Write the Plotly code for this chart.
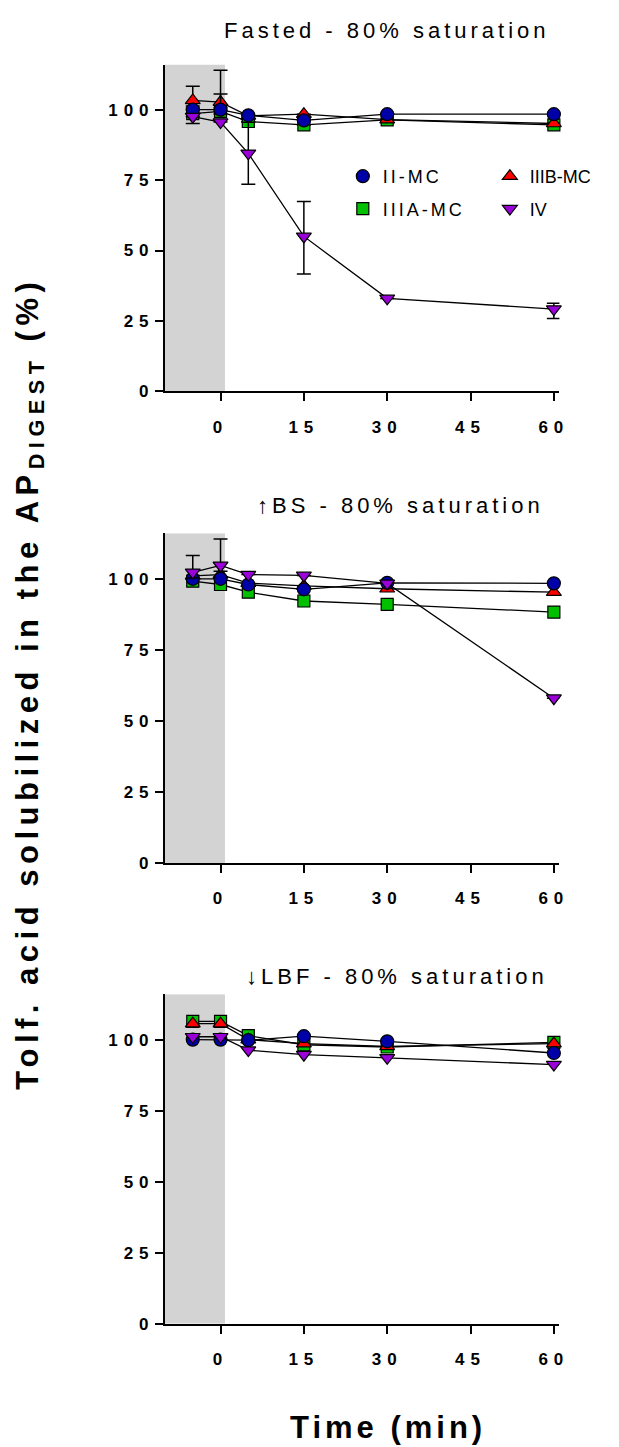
import plotly.graph_objects as go

# ---------------- data ----------------
time_min = [-5, 0, 5, 15, 30, 60]

x_tick_vals = [0, 15, 30, 45, 60]
x_tick_text = ["0", "15", "30", "45", "60"]
y_tick_vals = [0, 25, 50, 75, 100]
y_tick_text = ["0", "25", "50", "75", "100"]

panel_titles = ["Fasted - 80% saturation", "\u2191BS - 80% saturation", "\u2193LBF - 80% saturation"]
series_names = ["II-MC", "IIIA-MC", "IIIB-MC", "IV"]

# Fasted
fasted_ii = [100.0, 100.0, 98.0, 96.2, 98.4, 98.4]
fasted_iiia = [98.6, 99.4, 95.8, 94.6, 96.4, 94.6]
fasted_iiib = [103.3, 102.7, 97.8, 98.4, 96.5, 95.1]
fasted_iv = [97.5, 95.6, 84.5, 55.0, 33.0, 29.2]

fasted_ii_err_up = [None, 5.6, None, None, None, None]
fasted_ii_err_dn = [None, 1.5, None, None, None, None]
fasted_iiia_err_up = [2.0, None, None, None, None, None]
fasted_iiia_err_dn = [3.5, None, None, None, None, None]
fasted_iiib_err_up = [5.0, 11.3, None, None, None, None]
fasted_iiib_err_dn = [2.0, 2.0, None, None, None, None]
fasted_iv_err_up = [None, None, 11.0, 12.4, None, 2.1]
fasted_iv_err_dn = [None, None, 11.0, 13.3, None, 3.3]

# Increased bile salt (BS)
bs_ii = [100.0, 100.0, 98.0, 96.3, 98.6, 98.4]
bs_iiia = [99.2, 98.0, 95.3, 92.2, 91.0, 88.3]
bs_iiib = [101.0, 101.5, 98.5, 97.5, 96.5, 95.3]
bs_iv = [102.3, 104.7, 101.5, 101.2, 98.4, 58.0]

bs_iv_err_up = [5.9, 9.3, None, None, None, None]
bs_iv_err_dn = [2.0, 2.0, None, None, None, None]

# Decreased LBF
lbf_ii = [100.0, 100.0, 99.8, 101.2, 99.4, 95.3]
lbf_iiia = [106.4, 106.4, 101.4, 98.2, 97.4, 99.0]
lbf_iiib = [105.6, 105.6, 100.0, 98.6, 97.6, 98.6]
lbf_iv = [101.0, 101.0, 96.3, 94.7, 93.6, 91.2]

# shaded pre-digestion phase (minutes) and y extent
shade_start, shade_end = -10, 0.8
y_max = 116
x_range = [-10, 61]

# ---------------- styles ----------------
styles = {
    "II-MC": dict(color="#0000a8", symbol="circle", size=13),
    "IIIA-MC": dict(color="#00c000", symbol="square", size=12),
    "IIIB-MC": dict(color="#ff0000", symbol="triangle-up", size=13),
    "IV": dict(color="#9a00d8", symbol="triangle-down", size=13),
}
legend_of = {"II-MC": "legend", "IIIA-MC": "legend", "IIIB-MC": "legend2", "IV": "legend2"}
rank_of = {"II-MC": 1, "IIIA-MC": 2, "IIIB-MC": 1, "IV": 2}

panels = [
    {"II-MC": (fasted_ii, fasted_ii_err_up, fasted_ii_err_dn),
     "IIIA-MC": (fasted_iiia, fasted_iiia_err_up, fasted_iiia_err_dn),
     "IIIB-MC": (fasted_iiib, fasted_iiib_err_up, fasted_iiib_err_dn),
     "IV": (fasted_iv, fasted_iv_err_up, fasted_iv_err_dn)},
    {"II-MC": (bs_ii, None, None),
     "IIIA-MC": (bs_iiia, None, None),
     "IIIB-MC": (bs_iiib, None, None),
     "IV": (bs_iv, bs_iv_err_up, bs_iv_err_dn)},
    {"II-MC": (lbf_ii, None, None),
     "IIIA-MC": (lbf_iiia, None, None),
     "IIIB-MC": (lbf_iiib, None, None),
     "IV": (lbf_iv, None, None)},
]
draw_order = ["IIIA-MC", "IIIB-MC", "II-MC", "IV"]

W, H = 619, 1447
x_px = (158, 555)
panel_px = [(57, 386), (529, 861), (993, 1325)]  # top, bottom

FONT = "Liberation Sans, Arial, sans-serif"
fig = go.Figure()

for p, pdata in enumerate(panels):
    xa = "x" if p == 0 else f"x{p+1}"
    ya = "y" if p == 0 else f"y{p+1}"
    for name in draw_order:
        vals, eu, ed = pdata[name]
        st = styles[name]
        # connecting line
        fig.add_trace(go.Scatter(
            x=time_min, y=vals, name=name, mode="lines",
            xaxis=xa, yaxis=ya, cliponaxis=False,
            line=dict(color="black", width=1.3),
            showlegend=False, hoverinfo="skip",
        ))
        err = dict(visible=False)
        if eu is not None:
            err = dict(type="data", symmetric=False, array=eu, arrayminus=ed,
                       color="black", thickness=1.5, width=7, visible=True)
        fig.add_trace(go.Scatter(
            x=time_min, y=vals, name=name, mode="markers",
            xaxis=xa, yaxis=ya, cliponaxis=False,
            marker=dict(symbol=st["symbol"], size=st["size"], color=st["color"],
                        line=dict(color="black", width=1.2)),
            error_y=err,
            showlegend=(p == 0), legend=legend_of[name], legendgroup=name,
            legendrank=rank_of[name],
        ))

    xkey = "xaxis" if p == 0 else f"xaxis{p+1}"
    ykey = "yaxis" if p == 0 else f"yaxis{p+1}"
    top, bot = panel_px[p]
    fig.layout[xkey] = dict(
        domain=[x_px[0] / W, x_px[1] / W], anchor=ya, range=x_range,
        tickmode="array", tickvals=x_tick_vals, ticktext=x_tick_text,
        ticks="outside", ticklen=8, tickwidth=2, tickcolor="black",
        showline=True, linewidth=2, linecolor="black",
        showgrid=False, zeroline=False, ticklabelstandoff=11,
        tickfont=dict(family=FONT, size=17, color="black", weight="bold"),
    )
    fig.layout[ykey] = dict(
        domain=[1 - bot / H, 1 - top / H], anchor=xa, range=[0, y_max],
        tickmode="array", tickvals=y_tick_vals, ticktext=y_tick_text,
        ticks="outside", ticklen=8, tickwidth=2, tickcolor="black",
        showline=True, linewidth=2, linecolor="black",
        showgrid=False, zeroline=False, ticklabelstandoff=-3,
        tickfont=dict(family=FONT, size=17, color="black", weight="bold"),
    )
    fig.add_shape(type="rect", xref=xa, yref=ya, x0=shade_start, x1=shade_end, y0=0, y1=y_max,
                  fillcolor="#d3d3d3", line=dict(width=0), layer="below")

title_pos = [(381, 23), (395, 501), (392, 975)]
for t, (tx, ty) in zip(panel_titles, title_pos):
    fig.add_annotation(text=t, xref="paper", yref="paper", x=tx / W, y=1 - ty / H,
                       xanchor="center", yanchor="middle", showarrow=False,
                       font=dict(family=FONT, size=22, color="black"))

fig.add_annotation(text="Time (min)", xref="paper", yref="paper", x=382 / W, y=1 - 1429 / H,
                   xanchor="center", yanchor="middle", showarrow=False,
                   font=dict(family=FONT, size=31, color="black", weight="bold"))
fig.add_annotation(text="Tolf. acid solubilized in the AP<sub>DIGEST</sub> (%)", xref="paper", yref="paper",
                   x=22 / W, y=1 - 680 / H, xanchor="center", yanchor="middle", textangle=-90,
                   showarrow=False,
                   font=dict(family=FONT, size=31, color="black", weight="bold"))

legend_style = dict(font=dict(family=FONT, size=18, color="black"),
                    bgcolor="rgba(0,0,0,0)", borderwidth=0, orientation="v",
                    xanchor="left", yanchor="top", tracegroupgap=6, itemclick=False)
fig.update_layout(
    width=W, height=H, margin=dict(l=0, r=0, t=0, b=0),
    paper_bgcolor="white", plot_bgcolor="rgba(0,0,0,0)",
    showlegend=True,
    legend=dict(x=337 / W, y=1 - 151 / H, **legend_style),
    legend2=dict(x=485 / W, y=1 - 151 / H, **legend_style),
)

post = """
var s = document.createElement('style');
s.textContent = 'g.xtick text, g.x2tick text, g.x3tick text, g.ytick text, g.y2tick text, g.y3tick text {letter-spacing:6px;} ' +
  '.legendtext {letter-spacing:3px;} ' +
  'g.scrollbox {clip-path:none !important;} ' +
  '.annotation-text {letter-spacing:4px;} ' +
  '.annotation[data-index="4"] .annotation-text {letter-spacing:5.5px;}';
document.head.appendChild(s);
"""

fig.write_html("out.html", post_script=post)
